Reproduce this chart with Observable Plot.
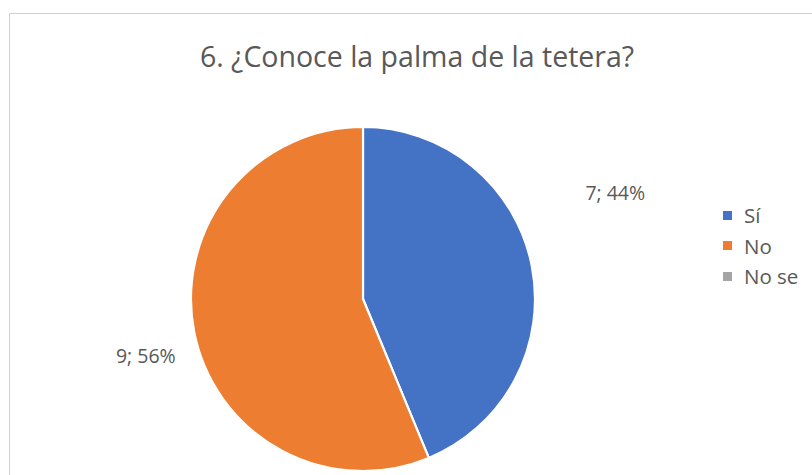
<!DOCTYPE html>
<html><head><meta charset="utf-8">
<script src="https://cdn.jsdelivr.net/npm/d3@7"></script>
<script src="https://cdn.jsdelivr.net/npm/@observablehq/plot@0.6"></script>
<style>
html,body{margin:0;padding:0;background:#fff;overflow:hidden;width:812px;height:475px;}
body{font-family:"Open Sans","Noto Sans",sans-serif;position:relative;}
#frame{position:absolute;left:9px;top:13px;width:840px;height:500px;border:1px solid #d0d0d0;box-sizing:border-box;}
#title{position:absolute;left:0;top:42px;width:834px;text-align:center;font-size:28.5px;color:#595959;white-space:nowrap;line-height:1;}
#chart{position:absolute;left:0;top:0;}
#legend{position:absolute;left:723px;top:200px;font-size:20.5px;color:#595959;}
#legend .item{display:flex;align-items:center;height:30.5px;}
#legend .sw{width:9px;height:9px;margin-right:12px;}
</style>
</head><body>
<div id="frame"></div>
<div id="chart"></div>
<div id="title"></div>
<div id="legend"></div>
<script>
const categories = ["Sí", "No", "No se"];
const counts = [7, 9, 0];
const colors = ["#4472C4", "#ED7D31", "#A5A5A5"];
const titleText = "6. ¿Conoce la palma de la tetera?";

const color = Plot.scale({color: {type: "ordinal", domain: categories, range: colors}});
const data = categories.map((c, i) => ({category: c, count: counts[i]}));
const total = d3.sum(counts);

const cx = 363, cy = 299, r = 172;
const pie = d3.pie().sort(null).value(d => d.count)(data);
const arc = d3.arc().innerRadius(0).outerRadius(r);

// label placement (Excel "best fit" style), offsets from slice mid-angle
const labelTweak = {"Sí": {da: -11.5, R: 273}, "No": {da: -3.4, R: 225}};
const labels = pie.filter(p => p.data.count > 0).map(p => {
  const t = labelTweak[p.data.category];
  const a = (p.startAngle + p.endAngle) / 2 + t.da * Math.PI / 180;
  return {
    x: cx + t.R * Math.sin(a),
    y: cy - t.R * Math.cos(a),
    text: `${p.data.count}; ${Math.round(p.data.count / total * 100)}%`
  };
});

function pieMark(index, scales, values, dimensions) {
  const g = d3.create("svg:g").attr("transform", `translate(${cx},${cy})`);
  g.selectAll("path").data(pie.filter(p => p.data.count > 0)).join("path")
    .attr("d", arc)
    .attr("fill", p => color.apply(p.data.category))
    .attr("stroke", "#fff")
    .attr("stroke-width", 2.2)
    .attr("stroke-linejoin", "round");
  return g.node();
}

const plot = Plot.plot({
  width: 812,
  height: 475,
  margin: 0,
  x: {type: "identity", axis: null},
  y: {type: "identity", axis: null},
  style: {background: "transparent", fontFamily: "'Open Sans', sans-serif"},
  marks: [
    pieMark,
    Plot.text(labels, {x: "x", y: "y", text: "text", fill: "#595959", fontSize: 19.5, textAnchor: "middle"})
  ]
});
document.getElementById("chart").appendChild(plot);

document.getElementById("title").textContent = titleText;
const legend = document.getElementById("legend");
categories.forEach((c, i) => {
  const item = document.createElement("div");
  item.className = "item";
  const sw = document.createElement("span");
  sw.className = "sw";
  sw.style.background = color.apply(c);
  const lab = document.createElement("span");
  lab.textContent = c;
  item.appendChild(sw); item.appendChild(lab);
  legend.appendChild(item);
});
</script>
</body></html>
